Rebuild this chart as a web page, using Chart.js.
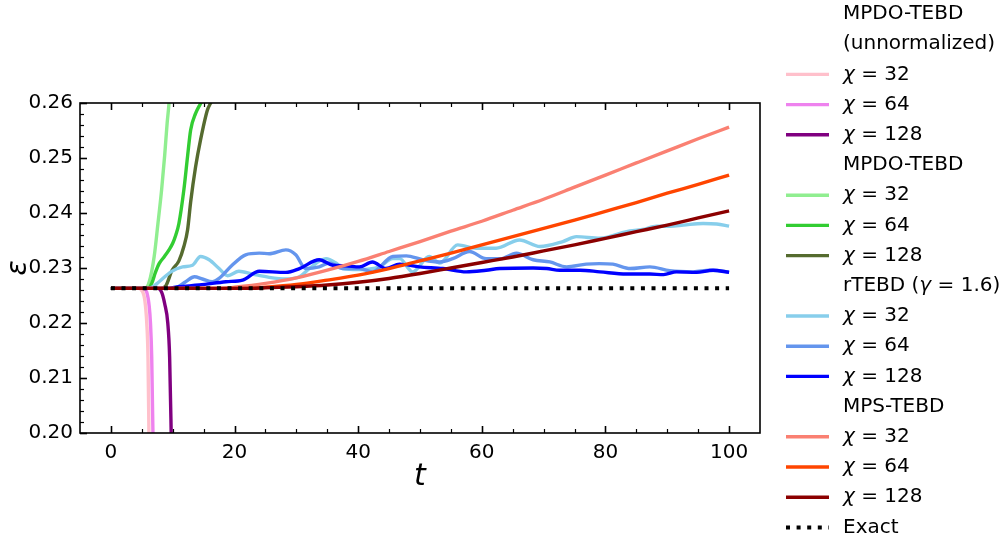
<!DOCTYPE html>
<html>
<head>
<meta charset="utf-8">
<script src="https://cdn.jsdelivr.net/npm/chart.js@4/dist/chart.umd.min.js"></script>
<style>
  html, body { margin: 0; padding: 0; background: #fff; }
  #wrap { width: 1003px; height: 545px; }
</style>
</head>
<body>
<div id="wrap"><canvas id="chart"></canvas></div>
<script>
// [t, epsilon] pairs
const mpdoU32 = [[0, 0.2263], [4.4, 0.2263], [5.0, 0.2259], [5.5, 0.2240], [5.8, 0.2200], [6.0, 0.2138], [6.15, 0.2000], [6.25, 0.1900]];
const mpdoU64 = [[0, 0.2263], [5.2, 0.2263], [5.8, 0.2256], [6.2, 0.2230], [6.4, 0.2200], [6.6, 0.2138], [6.8, 0.2000], [6.9, 0.1900]];
const mpdoU128 = [[0, 0.2263], [7.6, 0.2263], [8.2, 0.2256], [8.7, 0.2235], [9.2, 0.2200], [9.5, 0.2138], [9.75, 0.2000], [9.9, 0.1900]];

const mpdo32 = [[0, 0.2263], [5.5, 0.2263], [6.2, 0.2275], [7.0, 0.2321], [7.6, 0.2380], [8.2, 0.2442], [8.7, 0.2505], [9.1, 0.2564], [9.4, 0.2600], [9.6, 0.2640]];
const mpdo64 = [[0, 0.2263], [6.0, 0.2263], [6.6, 0.2272], [7.2, 0.2292], [7.8, 0.2308], [8.6, 0.2320], [9.4, 0.2333], [10.0, 0.2345], [10.5, 0.2360], [11.0, 0.2381], [11.8, 0.2442], [12.4, 0.2503], [12.9, 0.2551], [13.7, 0.2581], [14.5, 0.2599], [15.2, 0.2615]];
const mpdo128 = [[0, 0.2263], [8.0, 0.2263], [8.9, 0.2268], [9.9, 0.2296], [11.0, 0.2313], [11.8, 0.2339], [12.4, 0.2369], [12.9, 0.2420], [13.7, 0.2484], [14.5, 0.2533], [15.6, 0.2587], [16.2, 0.2602], [16.8, 0.2625]];

const rtebd32 = [[0, 0.2263], [6.2, 0.2263], [7.8, 0.2275], [9.7, 0.2293], [11.6, 0.2302], [13.2, 0.2305], [14.5, 0.2321], [15.9, 0.2315], [17.5, 0.2299], [18.9, 0.2286], [20.7, 0.2294],
  [22.9, 0.2289], [25.6, 0.2283], [28.3, 0.2280], [30.5, 0.2284], [32.1, 0.2299], [34.8, 0.2317], [36.4, 0.2309], [37.5, 0.2299], [40.0, 0.2297], [43.4, 0.2302], [45.6, 0.2317],
  [46.7, 0.2317], [48.8, 0.2293], [51.5, 0.2321], [53.2, 0.2309], [56.1, 0.2342], [59.1, 0.2336], [62.3, 0.2336], [66.1, 0.2351], [69.4, 0.2339], [73.1, 0.2348], [75.3, 0.2357],
  [79.1, 0.2354], [83.4, 0.2366], [86.0, 0.2370], [88.3, 0.2376], [90.5, 0.2376], [92.6, 0.2378], [95.8, 0.2381], [98.0, 0.2380], [100, 0.2376]];
const rtebd64 = [[0, 0.2263], [10.2, 0.2263], [12.1, 0.2275], [13.5, 0.2284], [14.8, 0.2280], [16.4, 0.2275], [17.5, 0.2281], [19.6, 0.2305], [21.8, 0.2324], [24.0, 0.2327],
  [25.6, 0.2326], [28.3, 0.2333], [29.9, 0.2324], [31.5, 0.2299], [33.7, 0.2302], [35.3, 0.2309], [37.5, 0.2299], [40.2, 0.2299], [42.3, 0.2293], [45.6, 0.2321], [47.8, 0.2322],
  [50.4, 0.2315], [53.2, 0.2311], [55.3, 0.2317], [58.0, 0.2330], [60.7, 0.2317], [63.0, 0.2317], [65.6, 0.2327], [68.3, 0.2315], [71.0, 0.2311], [73.7, 0.2302], [76.9, 0.2307],
  [79.0, 0.2308], [81.2, 0.2307], [84.0, 0.2299], [87.2, 0.2302], [90.4, 0.2295], [94.2, 0.2293], [96.9, 0.2296], [100, 0.2293]];
const rtebd128 = [[0, 0.2263], [9.0, 0.2263], [11.0, 0.2266], [14.3, 0.2269], [18.6, 0.2275], [21.3, 0.2278], [24.0, 0.2294], [28.3, 0.2292], [30.5, 0.2299], [33.7, 0.2315],
  [35.9, 0.2305], [38.0, 0.2304], [40.2, 0.2302], [42.3, 0.2311], [44.5, 0.2299], [46.7, 0.2307], [49.9, 0.2302], [53.7, 0.2299], [57.5, 0.2293], [60.7, 0.2296], [62.9, 0.2299],
  [68.3, 0.2300], [70.5, 0.2299], [72.6, 0.2296], [75.9, 0.2296], [79.1, 0.2293], [83.4, 0.2289], [87.2, 0.2289], [89.4, 0.2288], [91.5, 0.2293], [94.7, 0.2292], [97.4, 0.2296], [100, 0.2292]];

const mps32 = [[0, 0.2263], [18, 0.2263], [20, 0.2265], [25, 0.2272], [30, 0.2282], [35, 0.2296], [40, 0.2312], [45, 0.2330], [50, 0.2348], [55, 0.2367], [60, 0.2385],
  [65, 0.2405], [70, 0.2425], [75, 0.2447], [80, 0.2469], [85, 0.2491], [90, 0.2513], [95, 0.2535], [100, 0.2556]];
const mps64 = [[0, 0.2263], [22, 0.2263], [25, 0.2265], [30, 0.2270], [35, 0.2278], [40, 0.2287], [45, 0.2299], [50, 0.2313], [55, 0.2327], [60, 0.2342], [65, 0.2357],
  [70, 0.2372], [75, 0.2387], [80, 0.2403], [85, 0.2419], [90, 0.2436], [95, 0.2452], [100, 0.2469]];
const mps128 = [[0, 0.2263], [22, 0.2263], [25, 0.2264], [30, 0.2266], [35, 0.2269], [40, 0.2274], [45, 0.2281], [50, 0.2290], [55, 0.2300], [60, 0.2310], [65, 0.2320],
  [70, 0.2331], [75, 0.2342], [80, 0.2354], [85, 0.2366], [90, 0.2378], [95, 0.2391], [100, 0.2404]];

const exact = [[0, 0.2263], [100, 0.2263]];

const bondDims = [32, 64, 128];
const methodNames = [["MPDO-TEBD", "(unnormalized)"], ["MPDO-TEBD"], ["rTEBD (γ = 1.6)"], ["MPS-TEBD"]];
const methodSeries = [[mpdoU32, mpdoU64, mpdoU128], [mpdo32, mpdo64, mpdo128], [rtebd32, rtebd64, rtebd128], [mps32, mps64, mps128]];
const methodColors = [
  ["#FFC0CB", "#EE82EE", "#800080"],
  ["#90EE90", "#32CD32", "#556B2F"],
  ["#87CEEB", "#6495ED", "#0000FF"],
  ["#FA8072", "#FF4500", "#8B0000"],
];
const xTicks = [0, 20, 40, 60, 80, 100];
const yTicks = [0.20, 0.21, 0.22, 0.23, 0.24, 0.25, 0.26];

const FONT = '"DejaVu Sans"';
Chart.defaults.font.family = FONT;
Chart.defaults.color = "#000";

const datasets = [];
methodSeries.forEach((group, g) => {
  group.forEach((series, k) => {
    datasets.push({
      label: `χ = ${bondDims[k]}`,
      data: series.map(([t, e]) => ({ x: t, y: e })),
      borderColor: methodColors[g][k],
      borderWidth: 3.4,
      pointRadius: 0,
      cubicInterpolationMode: "monotone",
      fill: false,
    });
  });
});
datasets.push({
  label: "Exact",
  data: exact.map(([t, e]) => ({ x: t, y: e })),
  borderColor: "#000",
  borderWidth: 4,
  borderDash: [4, 6.6],
  pointRadius: 0,
  fill: false,
});
datasets.forEach((d, i) => (d.order = -i));

// inward ticks and the box, like the original axes
const frame = {
  id: "frame",
  afterDatasetsDraw(chart) {
    const { ctx, chartArea: a, scales } = chart;
    ctx.save();
    ctx.strokeStyle = "#000";
    const tick = (x1, y1, x2, y2, w) => {
      ctx.lineWidth = w;
      ctx.beginPath();
      ctx.moveTo(x1, y1);
      ctx.lineTo(x2, y2);
      ctx.stroke();
    };
    for (let t = 0; t <= 100; t += 5) {
      const x = Math.round(scales.x.getPixelForValue(t)) + 0.5;
      const len = t % 20 === 0 ? 7 : 4;
      const w = t % 20 === 0 ? 1.6 : 1.2;
      tick(x, a.bottom, x, a.bottom - len, w);
      tick(x, a.top, x, a.top + len, w);
    }
    for (let i = 0; i <= 30; i++) {
      const v = 0.20 + i * 0.002;
      const y = Math.round(scales.y.getPixelForValue(v)) + 0.5;
      const major = i % 5 === 0;
      tick(a.left, y, a.left + (major ? 7 : 4), y, major ? 1.6 : 1.2);
    }
    ctx.lineWidth = 1.6;
    ctx.strokeRect(a.left, a.top, a.right - a.left, a.bottom - a.top);
    ctx.restore();
  },
};

function drawRich(ctx, parts, x, y) {
  parts.forEach(([txt, italic]) => {
    ctx.font = (italic ? "italic " : "") + "20px " + FONT;
    ctx.fillText(txt, x, y);
    x += ctx.measureText(txt).width;
  });
}

const legend = {
  id: "sideLegend",
  afterDraw(chart) {
    const ctx = chart.ctx;
    const x0 = 786, x1 = 829, tx = 843, top = 14, step = 30.2;
    let row = 0;
    ctx.save();
    ctx.textBaseline = "middle";
    ctx.fillStyle = "#000";
    const ds = chart.data.datasets;
    let di = 0;
    methodNames.forEach((names) => {
      names.forEach((name) => {
        const y = top + step * row++;
        if (name.includes("γ")) {
          const [a, b] = name.split("γ");
          drawRich(ctx, [[a, false], ["γ", true], [b, false]], tx, y);
        } else {
          drawRich(ctx, [[name, false]], tx, y);
        }
      });
      bondDims.forEach((dim) => {
        const y = top + step * row++;
        ctx.strokeStyle = ds[di++].borderColor;
        ctx.lineWidth = 3.4;
        ctx.setLineDash([]);
        ctx.beginPath();
        ctx.moveTo(x0, y);
        ctx.lineTo(x1, y);
        ctx.stroke();
        drawRich(ctx, [["χ", true], [` = ${dim}`, false]], tx, y);
      });
    });
    const y = top + step * row;
    ctx.strokeStyle = "#000";
    ctx.lineWidth = 4;
    ctx.setLineDash([4, 6.6]);
    ctx.beginPath();
    ctx.moveTo(x0, y);
    ctx.lineTo(x1, y);
    ctx.stroke();
    drawRich(ctx, [["Exact", false]], tx, y);
    ctx.restore();
  },
};

new Chart(document.getElementById("chart"), {
  type: "line",
  data: { datasets },
  options: {
    responsive: true,
    maintainAspectRatio: false,
    animation: false,
    layout: { padding: { left: 0, top: 103, right: 243, bottom: 0 } },
    plugins: { legend: { display: false }, tooltip: { enabled: false } },
    scales: {
      x: {
        type: "linear",
        min: -5,
        max: 105,
        afterBuildTicks: (s) => (s.ticks = xTicks.map((v) => ({ value: v }))),
        afterFit: (s) => (s.height = 112),
        grid: { display: false, drawTicks: false },
        border: { display: false },
        ticks: { padding: 8, font: { size: 20 }, maxRotation: 0 },
        title: { display: true, text: "t", font: { size: 30, style: "italic" }, padding: { top: 0, bottom: 50 } },
      },
      y: {
        type: "linear",
        min: 0.20,
        max: 0.26,
        afterBuildTicks: (s) => (s.ticks = yTicks.map((v) => ({ value: v }))),
        afterFit: (s) => (s.width = 80),
        grid: { display: false, drawTicks: false },
        border: { display: false },
        ticks: { padding: 7, font: { size: 20 }, callback: (v) => v.toFixed(2) },
        title: { display: true, text: "ε", font: { size: 28, style: "italic" }, padding: { top: 2, bottom: 0 } },
      },
    },
  },
  plugins: [frame, legend],
});
</script>
</body>
</html>
